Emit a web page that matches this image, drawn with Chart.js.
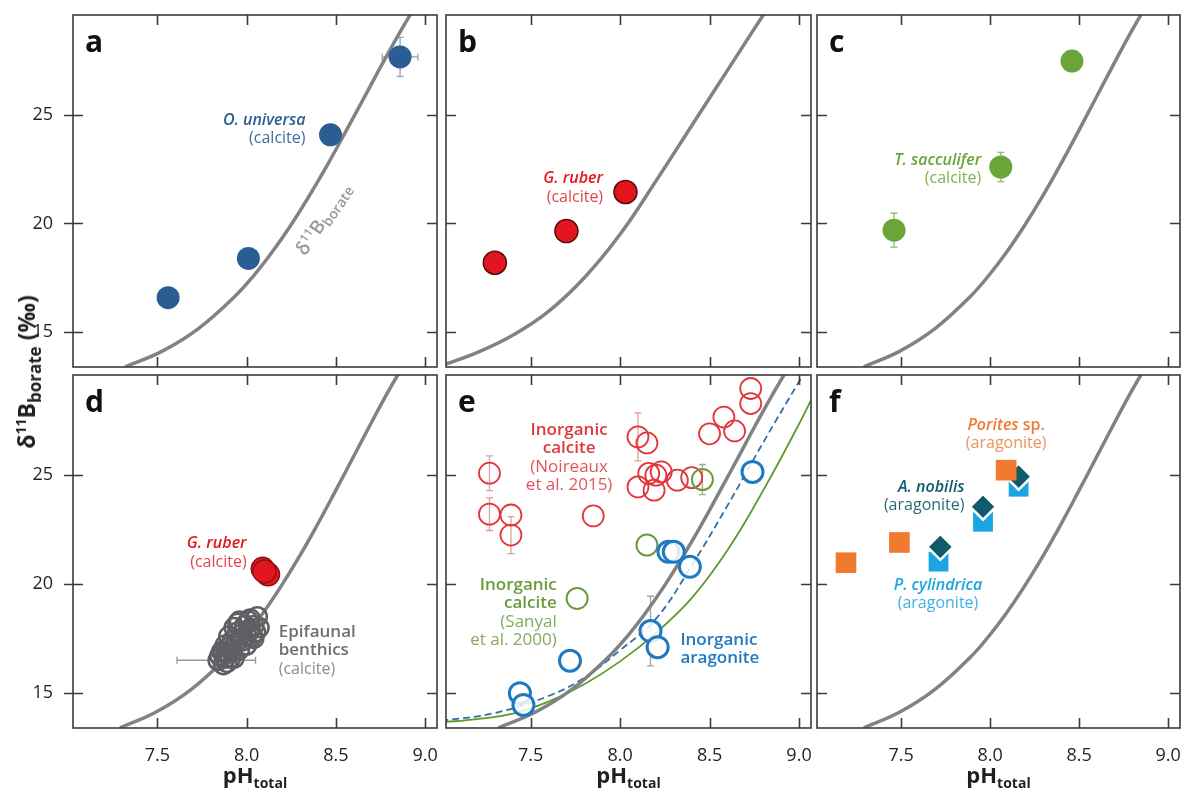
<!DOCTYPE html>
<html>
<head>
<meta charset="utf-8">
<script src="https://cdn.jsdelivr.net/npm/chart.js@4.4.1/dist/chart.umd.min.js"></script>
<style>
  body { margin: 0; background: #fff; }
  #wrap { position: relative; width: 1181px; height: 790px; overflow: hidden; }
  canvas { position: absolute; }
  #ytitle {
    position: absolute; left: 26px; top: 372px;
    transform: translate(-50%, -50%) rotate(-90deg);
    font: 700 23px "Open Sans", "Noto Sans", sans-serif; color: #231f20; white-space: nowrap;
  }
  #ytitle sup { font-size: 14px; vertical-align: 9px; line-height: 0; }
  #ytitle sub { font-size: 17px; vertical-align: -6px; line-height: 0; }
</style>
</head>
<body>
<div id="wrap">
  <canvas id="pa"></canvas><canvas id="pb"></canvas><canvas id="pc"></canvas>
  <canvas id="pd"></canvas><canvas id="pe"></canvas><canvas id="pf"></canvas>
  <div id="ytitle">δ<sup>11</sup>B<sub>borate</sub> (‰)</div>
</div>
<script>
const FONT = '"Open Sans", "Noto Sans", sans-serif';

// axes
const xTicks = [7.5, 8.0, 8.5, 9.0];
const yTicks = [15, 20, 25];
const PH_MIN = 7.027, PH_MAX = 9.067, D_MIN = 13.39, D_MAX = 29.6;

// δ11B borate curves
const borA_pH = [7.32, 7.525, 7.73, 7.935, 8.038, 8.14, 8.243, 8.345, 8.448, 8.55, 8.653, 8.755, 8.858, 8.96];
const borA_d  = [13.4, 14.11, 15.16, 16.65, 17.58, 18.65, 19.86, 21.19, 22.63, 24.15, 25.71, 27.27, 28.79, 30.2];
const borB_pH = [7.0, 7.2, 7.4, 7.6, 7.8, 8.0, 8.2, 8.4, 8.6, 8.8, 8.9];
const borB_d  = [13.45, 14.05, 14.85, 15.95, 17.5, 19.5, 21.95, 24.5, 27.05, 29.6, 30.85];
const borC_pH = [7.29, 7.49, 7.69, 7.89, 7.99, 8.09, 8.19, 8.29, 8.39, 8.49, 8.59, 8.69, 8.79, 8.89];
const borC_d  = [13.4, 14.11, 15.16, 16.65, 17.58, 18.65, 19.86, 21.19, 22.63, 24.15, 25.71, 27.27, 28.79, 30.2];
// panel e: inorganic aragonite (dashed) and calcite (green) curves
const araC_pH = [7.0, 7.3, 7.6, 7.8, 8.0, 8.2, 8.4, 8.6, 8.8, 9.0, 9.1];
const araC_d  = [13.72, 14.08, 14.86, 15.7, 16.96, 18.4, 20.85, 23.6, 26.5, 29.3, 30.7];
const calC_pH = [7.0, 7.2, 7.4, 7.6, 7.8, 8.0, 8.2, 8.4, 8.6, 8.8, 9.0, 9.1];
const calC_d  = [13.65, 13.8, 14.05, 14.6, 15.4, 16.45, 17.75, 19.35, 21.55, 24.3, 27.35, 29.0];

// a: O. universa
const aPH = [7.56, 8.01, 8.47, 8.86];
const aD  = [16.58, 18.39, 24.08, 27.67];
const aErr = [[8.86, 27.67, 0.1, 0.9]];   // [pH, d, ±pH, ±d]
// b: G. ruber
const bPH = [7.30, 7.70, 8.03];
const bD  = [18.19, 19.65, 21.45];
// c: T. sacculifer
const cPH = [7.46, 8.06, 8.46];
const cD  = [19.69, 22.6, 27.48];
const cErr = [[7.46, 19.69, 0, 0.78], [8.06, 22.6, 0, 0.67]];
// d: G. ruber and epifaunal benthics
const dRubPH = [8.09, 8.12, 8.10];
const dRubD  = [20.7, 20.45, 20.58];
const dBenPH = [7.84, 7.87, 7.89, 7.91, 7.86, 7.88, 7.92, 7.94, 7.90, 7.95, 7.97, 7.93, 7.99, 8.01, 7.96, 8.02, 8.04, 8.06, 8.07, 8.03, 8.00, 8.05,
                7.85, 7.88, 7.91, 7.93, 7.96, 7.98, 8.00, 8.02, 7.90, 7.95, 8.04, 7.87, 7.92, 7.97, 8.01, 7.89];
const dBenD  = [16.5, 16.3, 16.4, 16.6, 16.9, 17.2, 16.9, 17.3, 17.6, 17.8, 17.5, 18.0, 18.1, 17.9, 18.3, 18.4, 18.1, 18.5, 18.0, 17.6, 17.2, 17.8,
                16.7, 16.6, 17.0, 16.6, 17.0, 17.4, 17.6, 17.9, 17.1, 18.2, 17.5, 16.9, 17.4, 17.7, 18.3, 16.8];
const dErr = [[7.83, 16.5, 0.22, 0.3]];
// e: inorganic precipitates
const eNoiPH = [7.27, 7.27, 7.39, 7.39, 7.85, 8.10, 8.15, 8.16, 8.20, 8.23, 8.10, 8.19, 8.32, 8.40, 8.50, 8.58, 8.64, 8.73, 8.73];
const eNoiD  = [25.09, 23.21, 23.17, 22.25, 23.13, 26.76, 26.48, 25.08, 25.0, 25.15, 24.46, 24.31, 24.77, 24.89, 26.9, 27.67, 27.03, 28.98, 28.29];
const eNoiErr = [[7.27, 25.09, 0, 0.8], [7.27, 23.21, 0, 0.75], [7.39, 22.25, 0, 0.85], [8.10, 26.76, 0, 1.1]];
const eSanPH = [8.46, 8.15, 7.76];
const eSanD  = [24.8, 21.79, 19.34];
const eSanErr = [[8.46, 24.8, 0, 0.69]];
const eAraPH = [8.74, 8.27, 8.30, 8.39, 8.17, 8.21, 7.72, 7.44, 7.46];
const eAraD  = [25.15, 21.48, 21.48, 20.79, 17.84, 17.1, 16.48, 14.99, 14.45];
const eAraErr = [[8.17, 17.84, 0, 1.6]];
// f: corals
const porPH = [7.19, 7.49, 8.09];
const porD  = [20.98, 21.91, 25.23];
const nobPH = [7.72, 7.96, 8.16];
const nobD  = [21.71, 23.55, 24.93];
const cylPH = [7.71, 7.96, 8.16];
const cylD  = [21.03, 22.86, 24.47];

const GRAY = '#828282';
const xy = (xs, ys) => xs.map((x, i) => ({ x: x, y: ys[i] }));
const curve = (xs, ys, color, width, dash) => ({
  data: xy(xs, ys), showLine: true, pointRadius: 0, borderColor: color, borderWidth: width,
  borderDash: dash || [], tension: 0.4, fill: false, clip: 0
});
const pts = (xs, ys, o) => Object.assign({ data: xy(xs, ys), pointStyle: 'circle', borderWidth: 0 }, o);

const n = s => `400 ${s}px ${FONT}`;
const b = s => `600 ${s}px ${FONT}`;
const bi = s => `italic 600 ${s}px ${FONT}`;

const decor = {
  id: 'decor',
  beforeDatasetsDraw(chart, args, o) {
    const { ctx } = chart, xs = chart.scales.x, ys = chart.scales.y;
    (o.errs || []).forEach(g => g.list.forEach(e => {
      const px = xs.getPixelForValue(e[0]), py = ys.getPixelForValue(e[1]);
      ctx.save();
      ctx.strokeStyle = g.color; ctx.lineWidth = 1.3;
      ctx.beginPath();
      if (e[2]) {
        const l = xs.getPixelForValue(e[0] - e[2]), r = xs.getPixelForValue(e[0] + e[2]);
        ctx.moveTo(l, py); ctx.lineTo(r, py);
        ctx.moveTo(l, py - 3.5); ctx.lineTo(l, py + 3.5);
        ctx.moveTo(r, py - 3.5); ctx.lineTo(r, py + 3.5);
      }
      if (e[3]) {
        const t = ys.getPixelForValue(e[1] + e[3]), bt = ys.getPixelForValue(e[1] - e[3]);
        ctx.moveTo(px, t); ctx.lineTo(px, bt);
        ctx.moveTo(px - 3.5, t); ctx.lineTo(px + 3.5, t);
        ctx.moveTo(px - 3.5, bt); ctx.lineTo(px + 3.5, bt);
      }
      ctx.stroke();
      ctx.restore();
    }));
  },
  afterDraw(chart, args, o) {
    const { ctx, chartArea: ca } = chart, xs = chart.scales.x, ys = chart.scales.y;
    ctx.save();
    ctx.strokeStyle = '#3b3b3b'; ctx.lineWidth = 1.6;
    ctx.strokeRect(ca.left, ca.top, ca.right - ca.left, ca.bottom - ca.top);
    ctx.beginPath();
    xTicks.forEach(v => {
      const p = Math.round(xs.getPixelForValue(v)) + 0.5;
      ctx.moveTo(p, ca.top); ctx.lineTo(p, ca.top + 10);
      ctx.moveTo(p, ca.bottom); ctx.lineTo(p, ca.bottom - 10);
    });
    yTicks.forEach(v => {
      const p = Math.round(ys.getPixelForValue(v)) + 0.5;
      ctx.moveTo(ca.left - (o.outTick || 0), p); ctx.lineTo(ca.left + 10, p);
      ctx.moveTo(ca.right, p); ctx.lineTo(ca.right - 10, p);
    });
    ctx.stroke();

    // panel letter
    ctx.fillStyle = '#111'; ctx.font = `700 30px ${FONT}`; ctx.textBaseline = 'alphabetic';
    ctx.fillText(o.letter, ca.left + 12, ca.top + 37);

    // annotations
    (o.notes || []).forEach(nt => {
      let w = 0;
      nt.parts.forEach(p => { ctx.font = p[1]; p.w = ctx.measureText(p[0]).width; w += p.w; });
      ctx.save();
      ctx.translate(xs.getPixelForValue(nt.x), ys.getPixelForValue(nt.y));
      let sx = nt.align === 'right' ? -w : nt.align === 'center' ? -w / 2 : 0;
      let sy = 0;
      if (nt.rot) { ctx.rotate(nt.rot * Math.PI / 180); sy = 6; }
      nt.parts.forEach(p => {
        ctx.font = p[1]; ctx.fillStyle = p[2];
        ctx.fillText(p[0], sx, sy + (p[3] || 0));
        sx += p.w;
      });
      ctx.restore();
    });

    // x title
    if (o.xtitle) {
      ctx.fillStyle = '#231f20';
      ctx.font = `700 22px ${FONT}`;
      const w1 = ctx.measureText('pH').width;
      ctx.font = `700 14px ${FONT}`;
      const w2 = ctx.measureText('total').width;
      const cx = (ca.left + ca.right) / 2 - (w1 + w2) / 2, by = ca.bottom + 55;
      ctx.font = `700 22px ${FONT}`; ctx.fillText('pH', cx, by);
      ctx.font = `700 14px ${FONT}`; ctx.fillText('total', cx + w1, by + 5);
    }
    ctx.restore();
  }
};

const L = {
  a: { left: 0, top: 0, w: 445, h: 372, yw: 73, xh: 5, pad: { left: 0, right: 8, top: 15, bottom: 0 } },
  b: { left: 440, top: 0, w: 376, h: 372, yw: 6, xh: 5, pad: { left: 0, right: 5, top: 15, bottom: 0 } },
  c: { left: 811, top: 0, w: 370, h: 372, yw: 6, xh: 5, pad: { left: 0, right: 1, top: 15, bottom: 0 } },
  d: { left: 0, top: 370, w: 445, h: 420, yw: 73, xh: 62, pad: { left: 0, right: 8, top: 5, bottom: 0 } },
  e: { left: 440, top: 370, w: 376, h: 420, yw: 6, xh: 62, pad: { left: 0, right: 5, top: 5, bottom: 0 } },
  f: { left: 811, top: 370, w: 370, h: 420, yw: 6, xh: 62, pad: { left: 0, right: 1, top: 5, bottom: 0 } }
};

function mk(key, datasets, deco) {
  const lay = L[key];
  const cv = document.getElementById('p' + key);
  cv.width = lay.w; cv.height = lay.h;
  cv.style.left = lay.left + 'px'; cv.style.top = lay.top + 'px';
  deco.letter = key;
  deco.outTick = lay.yw > 10 ? 9 : 0;
  deco.xtitle = lay.xh > 10;
  return new Chart(cv, {
    type: 'scatter',
    // first dataset is drawn on top, so list from top to bottom
    data: { datasets: datasets.slice().reverse() },
    options: {
      responsive: false, animation: false, events: [],
      layout: { padding: lay.pad, autoPadding: false },
      plugins: { legend: { display: false }, tooltip: { enabled: false }, decor: deco },
      scales: {
        x: {
          type: 'linear', min: PH_MIN, max: PH_MAX,
          grid: { display: false }, border: { display: false },
          afterBuildTicks: s => { s.ticks = xTicks.map(v => ({ value: v })); },
          afterFit: s => { s.height = lay.xh; s.paddingLeft = 0; s.paddingRight = 0; },
          ticks: { display: lay.xh > 10, padding: 9, color: '#231f20', font: { family: FONT, size: 18 },
                   maxRotation: 0, callback: v => Number(v).toFixed(1) }
        },
        y: {
          type: 'linear', min: D_MIN, max: D_MAX,
          grid: { display: false }, border: { display: false },
          afterBuildTicks: s => { s.ticks = yTicks.map(v => ({ value: v })); },
          afterFit: s => { s.width = lay.yw; s.paddingTop = 0; s.paddingBottom = 0; },
          ticks: { display: lay.yw > 10, padding: 12, color: '#231f20', font: { family: FONT, size: 18 },
                   callback: v => String(v) }
        }
      }
    },
    plugins: [decor]
  });
}

const BLUE_A = '#2a5e92', RED = '#e3161f', RED_L = '#e2474d', GREEN = '#6aa53a', GREEN_L = '#7eb24c';

mk('a', [
  curve(borA_pH, borA_d, GRAY, 3.5),
  pts(aPH, aD, { pointRadius: 11.5, backgroundColor: BLUE_A })
], {
  errs: [{ list: aErr, color: '#8aa4c0' }],
  notes: [
    { x: 8.33, y: 24.54, align: 'right', parts: [['O. universa', bi(16), BLUE_A]] },
    { x: 8.33, y: 23.71, align: 'right', parts: [['(calcite)', n(16), '#3f6e9c']] },
    { x: 8.43, y: 20.2, align: 'center', rot: -56, parts: [
      ['δ', b(19), '#9a9a9a'], ['11', b(12), '#9a9a9a', -7], ['B', b(19), '#9a9a9a'], ['borate', b(14), '#9a9a9a', 4]] }
  ]
});

mk('b', [
  curve(borB_pH, borB_d, GRAY, 3.5),
  pts(bPH, bD, { pointRadius: 11.5, backgroundColor: RED, borderColor: '#5a0b0b', borderWidth: 1.6 })
], {
  notes: [
    { x: 7.905, y: 21.86, align: 'right', parts: [['G. ruber', bi(16), RED]] },
    { x: 7.905, y: 21.0, align: 'right', parts: [['(calcite)', n(16), RED_L]] }
  ]
});

mk('c', [
  curve(borC_pH, borC_d, GRAY, 3.5),
  pts(cPH, cD, { pointRadius: 11.5, backgroundColor: GREEN })
], {
  errs: [{ list: cErr, color: '#8fbb62' }],
  notes: [
    { x: 7.95, y: 22.71, align: 'right', parts: [['T. sacculifer', bi(16), GREEN]] },
    { x: 7.95, y: 21.87, align: 'right', parts: [['(calcite)', n(16), GREEN_L]] }
  ]
});

mk('d', [
  curve(borC_pH, borC_d, GRAY, 3.5),
  pts(dBenPH, dBenD, { pointRadius: 9.5, backgroundColor: 'transparent', borderColor: '#5f6063', borderWidth: 2.5 }),
  pts(dRubPH, dRubD, { pointRadius: 11.5, backgroundColor: RED, borderColor: '#8a1010', borderWidth: 1.4 })
], {
  errs: [{ list: dErr, color: '#9a9a9a' }],
  notes: [
    { x: 8.0, y: 21.64, align: 'right', parts: [['G. ruber', bi(16), RED]] },
    { x: 8.0, y: 20.79, align: 'right', parts: [['(calcite)', n(16), RED_L]] },
    { x: 8.18, y: 17.58, align: 'left', parts: [['Epifaunal', b(17), '#6d6e71']] },
    { x: 8.18, y: 16.74, align: 'left', parts: [['benthics', b(17), '#6d6e71']] },
    { x: 8.18, y: 15.87, align: 'left', parts: [['(calcite)', n(16), '#8c8c8c']] }
  ]
});

const E_RED = '#e2363c', E_RED_L = '#e0575b', E_GRN = '#6b9a3c', E_GRN_L = '#86aa5c', E_BLU = '#1f79c1';
mk('e', [
  curve(calC_pH, calC_d, '#5e9a2c', 1.8),
  curve(araC_pH, araC_d, '#2f6ea6', 1.8, [7, 4]),
  curve(borA_pH, borA_d, GRAY, 3.5),
  pts(eNoiPH, eNoiD, { pointRadius: 10.5, backgroundColor: 'transparent', borderColor: E_RED, borderWidth: 1.8 }),
  pts(eSanPH, eSanD, { pointRadius: 10.5, backgroundColor: 'transparent', borderColor: E_GRN, borderWidth: 2 }),
  pts(eAraPH, eAraD, { pointRadius: 10.5, backgroundColor: 'rgba(255,255,255,0.85)', borderColor: E_BLU, borderWidth: 3 })
], {
  errs: [
    { list: eNoiErr, color: '#dda0a0' },
    { list: eSanErr, color: '#a0a890' },
    { list: eAraErr, color: '#98a4b4' }
  ],
  notes: [
    { x: 7.715, y: 26.83, align: 'center', parts: [['Inorganic', b(17), E_RED]] },
    { x: 7.715, y: 26.0, align: 'center', parts: [['calcite', b(17), E_RED]] },
    { x: 7.715, y: 25.15, align: 'center', parts: [['(Noireaux', n(17), E_RED_L]] },
    { x: 7.715, y: 24.31, align: 'center', parts: [['et al. 2015)', n(17), E_RED_L]] },
    { x: 7.646, y: 19.72, align: 'right', parts: [['Inorganic', b(17), E_GRN]] },
    { x: 7.646, y: 18.88, align: 'right', parts: [['calcite', b(17), E_GRN]] },
    { x: 7.646, y: 18.04, align: 'right', parts: [['(Sanyal', n(17), E_GRN_L]] },
    { x: 7.646, y: 17.2, align: 'right', parts: [['et al. 2000)', n(17), E_GRN_L]] },
    { x: 8.337, y: 17.2, align: 'left', parts: [['Inorganic', b(17), E_BLU]] },
    { x: 8.337, y: 16.36, align: 'left', parts: [['aragonite', b(17), E_BLU]] }
  ]
});

const ORG = '#f07a30', TEAL = '#0f5b6c', LBLU = '#1aa4e2';
mk('f', [
  curve(borC_pH, borC_d, GRAY, 3.5),
  pts(cylPH, cylD, { pointStyle: 'rect', pointRadius: 14, backgroundColor: LBLU }),
  pts(nobPH, nobD, { pointStyle: 'rectRot', pointRadius: 13, backgroundColor: TEAL, borderColor: '#fff', borderWidth: 2.5 }),
  pts(porPH, porD, { pointStyle: 'rect', pointRadius: 14.6, backgroundColor: ORG })
], {
  notes: [
    { x: 8.09, y: 27.08, align: 'center', parts: [['Porites', bi(16), ORG], [' sp.', b(16), ORG]] },
    { x: 8.09, y: 26.24, align: 'center', parts: [['(aragonite)', n(16), '#f0935a']] },
    { x: 7.856, y: 24.25, align: 'right', parts: [['A. nobilis', bi(16), TEAL]] },
    { x: 7.856, y: 23.41, align: 'right', parts: [['(aragonite)', n(16), '#2a6a78']] },
    { x: 7.707, y: 19.74, align: 'center', parts: [['P. cylindrica', bi(16), LBLU]] },
    { x: 7.707, y: 18.9, align: 'center', parts: [['(aragonite)', n(16), '#3fb0e4']] }
  ]
});
</script>
</body>
</html>
